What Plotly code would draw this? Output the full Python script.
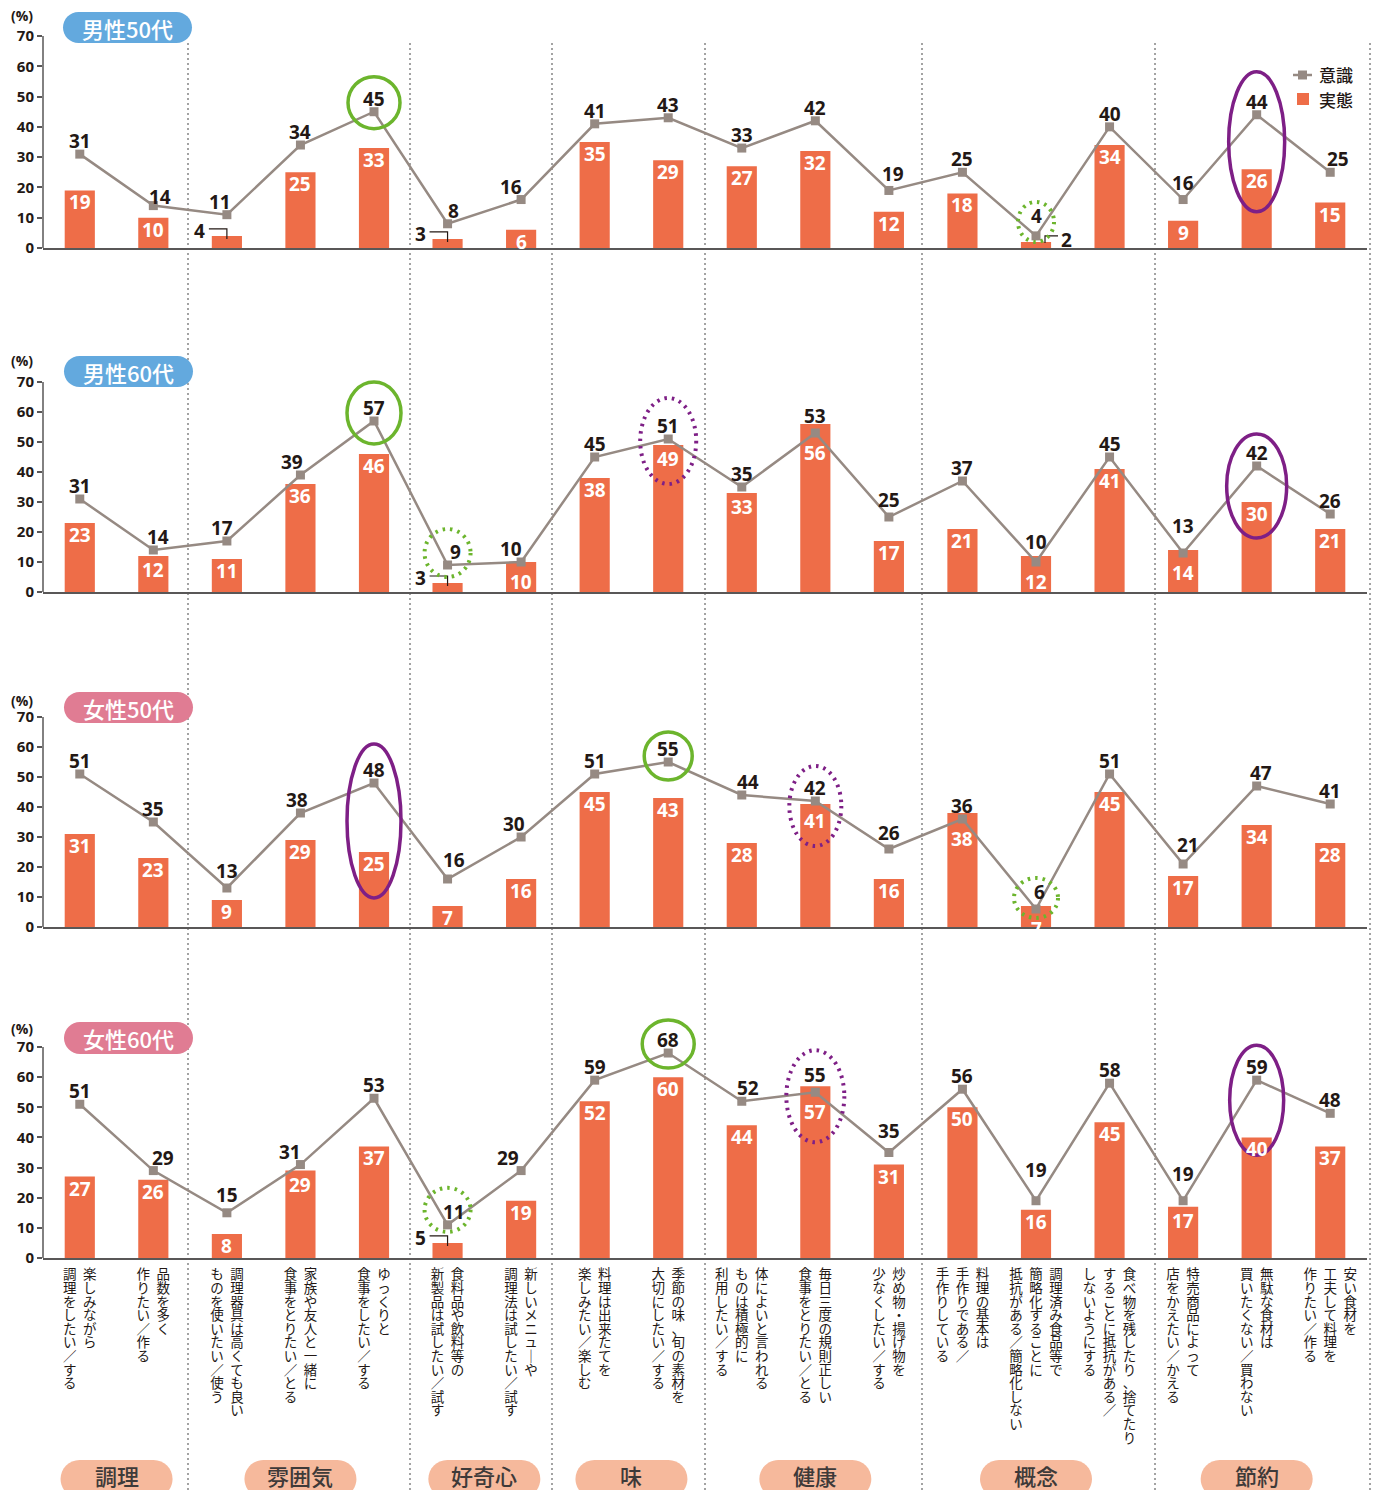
import plotly.graph_objects as go

W, H = 1381, 1490

# ---- data -------------------------------------------------------------
panel_titles = ["男性50代", "男性60代", "女性50代", "女性60代"]

ishiki_m50 = [31, 14, 11, 34, 45, 8, 16, 41, 43, 33, 42, 19, 25, 4, 40, 16, 44, 25]
jittai_m50 = [19, 10, 4, 25, 33, 3, 6, 35, 29, 27, 32, 12, 18, 2, 34, 9, 26, 15]
ishiki_m60 = [31, 14, 17, 39, 57, 9, 10, 45, 51, 35, 53, 25, 37, 10, 45, 13, 42, 26]
jittai_m60 = [23, 12, 11, 36, 46, 3, 10, 38, 49, 33, 56, 17, 21, 12, 41, 14, 30, 21]
ishiki_f50 = [51, 35, 13, 38, 48, 16, 30, 51, 55, 44, 42, 26, 36, 6, 51, 21, 47, 41]
jittai_f50 = [31, 23, 9, 29, 25, 7, 16, 45, 43, 28, 41, 16, 38, 7, 45, 17, 34, 28]
ishiki_f60 = [51, 29, 15, 31, 53, 11, 29, 59, 68, 52, 55, 35, 56, 19, 58, 19, 59, 48]
jittai_f60 = [27, 26, 8, 29, 37, 5, 19, 52, 60, 44, 57, 31, 50, 16, 45, 17, 40, 37]

# category captions, one string per vertical column (right column first)
category_lines = [
    ["楽しみながら", "調理をしたい／する"],
    ["品数を多く", "作りたい／作る"],
    ["調理器具は高くても良い", "ものを使いたい／使う"],
    ["家族や友人と一緒に", "食事をとりたい／とる"],
    ["ゆっくりと", "食事をしたい／する"],
    ["食料品や飲料等の", "新製品は試したい／試す"],
    ["新しいメニューや", "調理法は試したい／試す"],
    ["料理は出来たてを", "楽しみたい／楽しむ"],
    ["季節の味、旬の素材を", "大切にしたい／する"],
    ["体によいと言われる", "ものは積極的に", "利用したい／する"],
    ["毎日三度の規則正しい", "食事をとりたい／とる"],
    ["炒め物・揚げ物を", "少なくしたい／する"],
    ["料理の基本は", "手作りである／", "手作りしている"],
    ["調理済み食品等で", "簡略化することに", "抵抗がある／簡略化しない"],
    ["食べ物を残したり、捨てたり", "することに抵抗がある／", "しないようにする"],
    ["特売商品によって", "店をかえたい／かえる"],
    ["無駄な食材は", "買いたくない／買わない"],
    ["安い食材を", "工夫して料理を", "作りたい／作る"],
]

group_names = ["調理", "雰囲気", "好奇心", "味", "健康", "概念", "節約"]
group_members = [[0, 1], [2, 3, 4], [5, 6], [7, 8], [9, 10, 11], [12, 13, 14], [15, 16, 17]]

y_ticks = [0, 10, 20, 30, 40, 50, 60, 70]
series_names = ["意識", "実態"]

panels = [
    (ishiki_m50, jittai_m50),
    (ishiki_m60, jittai_m60),
    (ishiki_f50, jittai_f50),
    (ishiki_f60, jittai_f60),
]

# ---- styling / layout constants --------------------------------------
BAR_C = "#ee6d48"
LINE_C = "#968a83"
AXIS_C = "#595757"
TEXT_C = "#231815"
GREEN = "#6cb52d"
PURPLE = "#7e1f86"
BLUE_PILL = "#63a9de"
PINK_PILL = "#e07c93"
PEACH = "#f6b99c"
NUM_FONT = "Open Sans"
JP_FONT = "Noto Sans CJK JP"
NUM_SIZE = 19

PX_L, PX_R = 43, 1367
ZERO_PX = [248, 592, 927, 1258]
TOP_PX = [36, 382, 717, 1047]     # pixel row of the 70 % tick
N = 18
STEP = (PX_R - PX_L) / N
YMAX = 70          # top of the drawn value axis
YROOM = 80         # axis range, leaves room above 70 for rings and labels


def cx(i):
    return PX_L + STEP * (i + 0.5)


def px_x(x):
    return x / W


def px_y(y):
    return 1 - y / H


# highlight rings: (panel, category, kind, centre offset up in px, rx, ry)
rings = [
    (0, 4, "green", 9, 26, 26),
    (0, 13, "green_dot", 14, 18, 20),
    (0, 16, "purple", -27, 28, 70),
    (1, 4, "green", 8, 27, 31),
    (1, 5, "green_dot", 12, 23, 24),
    (1, 8, "purple_dot", -2, 28, 43),
    (1, 16, "purple", -20, 30, 52),
    (2, 4, "purple", -38, 27, 77),
    (2, 8, "green", 6, 24, 24),
    (2, 10, "purple_dot", -5, 26, 40),
    (2, 13, "green_dot", 11, 22, 20),
    (3, 5, "green_dot", 15, 23, 22),
    (3, 8, "green", 9, 26, 24),
    (3, 10, "purple_dot", -4, 29, 46),
    (3, 16, "purple", -20, 27, 55),
]

# small bars whose value sits outside with a leader line: (panel, category, side)
outside_bar_labels = [(0, 2, "left"), (0, 5, "left"), (0, 13, "right"), (1, 5, "left"), (3, 5, "left")]

# nudges for some line labels (px)
line_label_dx = {
    (0, 1): 7, (0, 2): -7, (0, 5): 6, (0, 6): -10, (0, 11): 4, (0, 17): 8,
    (1, 1): 5, (1, 2): -5, (1, 3): -8, (1, 5): 8, (1, 6): -10,
    (2, 3): -3, (2, 5): 6, (2, 6): -7, (2, 9): 6, (2, 13): 3, (2, 15): 5, (2, 16): 4,
    (3, 1): 10, (3, 3): -10, (3, 5): 6, (3, 6): -13, (3, 9): 6,
}
line_label_dy = {
    (0, 1): -4, (0, 11): 3, (0, 13): 7, (0, 15): 4,
    (1, 10): 4, (1, 11): 4, (1, 13): 7, (1, 15): 14,
    (2, 2): 4, (2, 5): 6, (2, 11): 3, (2, 13): 4, (2, 15): 6,
    (3, 2): 5, (3, 10): 4, (3, 11): 8, (3, 13): 18, (3, 15): 14,
}

fig = go.Figure()
annotations = []
shapes = []

for p, (ish, jit) in enumerate(panels):
    sfx = "" if p == 0 else str(p + 1)
    xa, ya = "x" + sfx, "y" + sfx
    cats = list(range(N))
    fig.add_trace(go.Bar(
        x=cats, y=jit, width=0.41, marker=dict(color=BAR_C, line=dict(width=0)),
        xaxis=xa, yaxis=ya, name=series_names[1], showlegend=False, hoverinfo="skip",
    ))
    fig.add_trace(go.Scatter(
        x=cats, y=ish, mode="lines+markers", xaxis=xa, yaxis=ya,
        line=dict(color=LINE_C, width=2.5),
        marker=dict(symbol="square", size=9, color=LINE_C),
        name=series_names[0], showlegend=False, hoverinfo="skip", cliponaxis=False,
    ))

    ppu = (ZERO_PX[p] - TOP_PX[p]) / YMAX
    outside = {c: side for (pp, c, side) in outside_bar_labels if pp == p}
    num_font = dict(family=NUM_FONT, size=NUM_SIZE, color=TEXT_C, weight=700)

    for i in range(N):
        # line (意識) values
        annotations.append(dict(
            x=i, y=ish[i], xref=xa, yref=ya, text=str(ish[i]), showarrow=False,
            xshift=line_label_dx.get((p, i), 0), yshift=13 + line_label_dy.get((p, i), 0),
            font=num_font,
        ))
        # bar (実態) values
        if i in outside:
            if outside[i] == "left":
                dx, dy, path = -27, 5, "M -18,7 L 0,7 L 0,-3"
            else:
                dx, dy, path = 30, 2, "M 9,-1 L 9,6 L 22,6"
            annotations.append(dict(
                x=i, y=jit[i], xref=xa, yref=ya, text=str(jit[i]), showarrow=False,
                xshift=dx, yshift=dy, font=num_font,
            ))
            shapes.append(dict(
                type="path", xref=xa, yref=ya, xsizemode="pixel", ysizemode="pixel",
                xanchor=i, yanchor=jit[i], path=path,
                line=dict(color=TEXT_C, width=1.2),
            ))
        else:
            bar_top = jit[i] * ppu
            mark = ish[i] * ppu
            below = 12
            if -8 <= bar_top - mark <= 20:
                below = bar_top - mark + 20
            below = min(below, bar_top + 4)
            annotations.append(dict(
                x=i, y=jit[i], xref=xa, yref=ya, text=str(jit[i]), showarrow=False,
                yshift=-below,
                font=dict(family=NUM_FONT, size=NUM_SIZE, color="white", weight=700),
            ))

    top_ext = ZERO_PX[p] - YROOM * ppu
    fig.update_layout(**{
        "xaxis" + sfx: dict(
            domain=[px_x(PX_L), px_x(PX_R)], range=[-0.5, N - 0.5], anchor=ya,
            showline=True, linecolor=AXIS_C, linewidth=2, ticks="",
            showticklabels=False, fixedrange=True, showgrid=False, zeroline=False,
            automargin=False,
        ),
        "yaxis" + sfx: dict(
            domain=[px_y(ZERO_PX[p]), min(1.0, px_y(top_ext))], range=[0, YROOM], anchor=xa,
            showline=False, ticks="outside",
            ticklen=5, tickwidth=1.5, tickcolor=AXIS_C, tickvals=y_ticks,
            tickfont=dict(family=NUM_FONT, size=15, color=TEXT_C, weight=700),
            fixedrange=True, showgrid=False, zeroline=False, automargin=False,
        ),
    })
    # value axis spine, 0-70 only
    shapes.append(dict(type="line", xref=xa + " domain", yref=ya, x0=0, x1=0, y0=0, y1=YMAX,
                       line=dict(color=AXIS_C, width=1.5), layer="above"))

    # highlight rings
    for (pp, c, kind, dy, rx, ry) in rings:
        if pp != p:
            continue
        col = GREEN if kind.startswith("green") else PURPLE
        dotted = kind.endswith("dot")
        shapes.append(dict(
            type="circle", xref=xa, yref=ya, xsizemode="pixel", ysizemode="pixel",
            xanchor=c, yanchor=ish[c], x0=-rx, x1=rx, y0=dy - ry, y1=dy + ry,
            line=dict(color=col, width=4 if dotted else 3.5,
                      dash="2.5px,5px" if dotted else "solid"),
            layer="above",
        ))


def pill_path(x0, y0, x1, y1):
    r = (y1 - y0) / 2
    k = 0.5523 * r
    yc = (y0 + y1) / 2
    pts = [
        ("M", [(x0 + r, y0)]),
        ("L", [(x1 - r, y0)]),
        ("C", [(x1 - r + k, y0), (x1, yc - k), (x1, yc)]),
        ("C", [(x1, yc + k), (x1 - r + k, y1), (x1 - r, y1)]),
        ("L", [(x0 + r, y1)]),
        ("C", [(x0 + r - k, y1), (x0, yc + k), (x0, yc)]),
        ("C", [(x0, yc - k), (x0 + r - k, y0), (x0 + r, y0)]),
    ]
    s = ""
    for cmd, ps in pts:
        s += cmd + " " + " ".join(f"{px_x(a):.5f},{px_y(b):.5f}" for a, b in ps) + " "
    return s + "Z"


def paper_text(x, y, text, font, xanchor="center"):
    return dict(x=px_x(x), y=px_y(y), xref="paper", yref="paper", text=text,
                showarrow=False, xanchor=xanchor, yanchor="middle", font=font)


# panel title pills and (%) units
title_boxes = [(63, 12, 192, 43), (64, 356, 193, 387), (64, 692, 193, 723), (64, 1022, 193, 1054)]
pill_colors = [BLUE_PILL, BLUE_PILL, PINK_PILL, PINK_PILL]
unit_y = [15, 360, 700, 1028]
for p, (x0, y0, x1, y1) in enumerate(title_boxes):
    shapes.append(dict(type="path", xref="paper", yref="paper", path=pill_path(x0, y0, x1, y1),
                       fillcolor=pill_colors[p], line=dict(width=0), layer="above"))
    annotations.append(paper_text((x0 + x1) / 2, (y0 + y1) / 2, panel_titles[p],
                                  dict(family=JP_FONT, size=22, color="white", weight=500)))
    annotations.append(paper_text(22, unit_y[p], "(%)",
                                  dict(family=NUM_FONT, size=14, color=TEXT_C, weight=700)))

# dotted group separators running through all panels
for sx in [188, 410, 552, 705, 922, 1155, 1370]:
    shapes.append(dict(type="line", xref="paper", yref="paper",
                       x0=px_x(sx), x1=px_x(sx), y0=px_y(43), y1=0,
                       line=dict(color="#a3a3a3", width=2, dash="2px,3px"), layer="below"))

# legend
shapes.append(dict(type="line", xref="paper", yref="paper", x0=px_x(1293), x1=px_x(1312),
                   y0=px_y(75), y1=px_y(75), line=dict(color=LINE_C, width=2.5)))
shapes.append(dict(type="rect", xref="paper", yref="paper", x0=px_x(1298), x1=px_x(1307),
                   y0=px_y(70.5), y1=px_y(79.5), fillcolor=LINE_C, line=dict(width=0)))
shapes.append(dict(type="rect", xref="paper", yref="paper", x0=px_x(1297), x1=px_x(1309),
                   y0=px_y(93), y1=px_y(105), fillcolor=BAR_C, line=dict(width=0)))
for txt, ly in [(series_names[0], 75), (series_names[1], 99)]:
    annotations.append(paper_text(1317, ly, txt, dict(family=JP_FONT, size=17, color=TEXT_C,
                                                      weight=500), xanchor="left"))

# group pills at the bottom
for name, mem in zip(group_names, group_members):
    gc = sum(cx(i) for i in mem) / len(mem)
    shapes.append(dict(type="path", xref="paper", yref="paper",
                       path=pill_path(gc - 56, 1460, gc + 56, 1498),
                       fillcolor=PEACH, line=dict(width=0), layer="above"))
    annotations.append(paper_text(gc, 1475, name,
                                  dict(family=JP_FONT, size=22, color="#3e3a39", weight=500)))

# vertical (tategaki) category captions, one glyph per cell
VERT = {"ー": "｜"}
COL_GAP, CHAR_TOP, CHAR_STEP = 20, 1276, 13.6
vx, vy, vt = [], [], []
for i, cols in enumerate(category_lines):
    n = len(cols)
    for k, col in enumerate(cols):
        x = cx(i) + COL_GAP * ((n - 1) / 2 - k)
        for j, ch in enumerate(col):
            vx.append(x)
            vy.append(CHAR_TOP + CHAR_STEP * j)
            vt.append(VERT.get(ch, ch))
fig.add_trace(go.Scatter(
    x=vx, y=vy, text=vt, mode="text", textposition="middle center",
    textfont=dict(family=JP_FONT, size=13.5, color=TEXT_C),
    xaxis="x5", yaxis="y5", showlegend=False, hoverinfo="skip", cliponaxis=False,
))

fig.update_layout(
    xaxis5=dict(domain=[0, 1], range=[0, W], visible=False, anchor="y5", fixedrange=True,
                automargin=False),
    yaxis5=dict(domain=[0, 1], range=[H, 0], visible=False, anchor="x5", fixedrange=True,
                automargin=False),
    width=W, height=H, autosize=False,
    margin=dict(l=0, r=0, t=0, b=0, pad=0, autoexpand=False),
    paper_bgcolor="white", plot_bgcolor="rgba(0,0,0,0)",
    showlegend=False, barmode="overlay",
    annotations=annotations, shapes=shapes,
)

fig.write_html("out.html", config={"displayModeBar": False})
